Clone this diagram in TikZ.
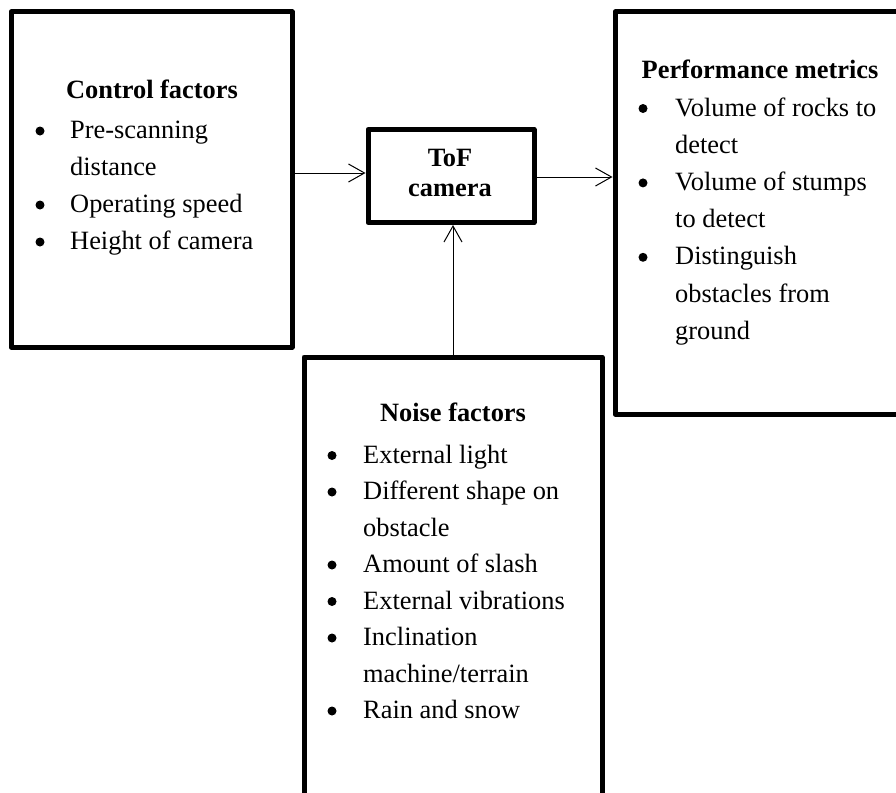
\documentclass[tikz,border=0pt]{standalone}
\usepackage{fontspec}
\setmainfont{Liberation Serif}
\usetikzlibrary{arrows.meta}
\tikzset{
  box/.style={draw, line width=5pt, line join=round, inner sep=0pt},
  ttl/.style={anchor=base, inner sep=0pt, font=\fontsize{26.4}{32}\selectfont\bfseries},
  itm/.style={anchor=base west, inner sep=0pt},
  bul/.style={circle, fill, inner sep=0pt, minimum size=9pt},
  arr/.style={line width=1pt, -{Straight Barb[length=16pt,width=18pt]}},
}
\begin{document}
\begin{tikzpicture}[x=1pt,y=-1pt, font=\fontsize{26.4}{32}\selectfont]
\useasboundingbox (0,0) rectangle (896,792);
\clip (0,0) rectangle (896,792);

% boxes
\node[box, minimum width=281pt, minimum height=335pt] (ctrl) at (151.5,179.5) {};
\node[box, minimum width=166pt, minimum height=93pt] (tof) at (451,176) {};
\node[box, minimum width=290pt, minimum height=402pt] (perf) at (760,213) {};
\node[box, minimum width=298pt, minimum height=453pt] (noise) at (453,583.5) {};

% control factors
\node[ttl] (ct) at (152,98) {Control factors};
\node[bul] (cb1) at (40,131) {};
\node[itm] (c1) at (70,138.5) {Pre-scanning};
\node[itm] (c1b) at (70,175.5) {distance};
\node[bul] (cb2) at (40,205) {};
\node[itm] (c2) at (70,212.6) {Operating speed};
\node[bul] (cb3) at (40,242) {};
\node[itm] (c3) at (70,249.8) {Height of camera};

% ToF camera
\node[ttl] (t1) at (450,166.5) {ToF};
\node[ttl] (t2) at (450,196) {camera};

% performance metrics
\node[ttl] (pt) at (760,78) {Performance metrics};
\node[bul] (pb1) at (643,108.5) {};
\node[itm] (p1) at (675,116) {Volume of rocks to};
\node[itm] (p1b) at (675,153.2) {detect};
\node[bul] (pb2) at (643,182.9) {};
\node[itm] (p2) at (675,190.4) {Volume of stumps};
\node[itm] (p2b) at (675,227.6) {to detect};
\node[bul] (pb3) at (643,257.3) {};
\node[itm] (p3) at (675,264.8) {Distinguish};
\node[itm] (p3b) at (675,302) {obstacles from};
\node[itm] (p3c) at (675,339.2) {ground};

% noise factors
\node[ttl] (nt) at (453,421) {Noise factors};
\node[bul] (nb1) at (332,455.5) {};
\node[itm] (n1) at (363,463) {External light};
\node[bul] (nb2) at (332,492) {};
\node[itm] (n2) at (363,499.5) {Different shape on};
\node[itm] (n2b) at (363,536) {obstacle};
\node[bul] (nb3) at (332,565) {};
\node[itm] (n3) at (363,572.5) {Amount of slash};
\node[bul] (nb4) at (332,601.5) {};
\node[itm] (n4) at (363,609) {External vibrations};
\node[bul] (nb5) at (332,638) {};
\node[itm] (n5) at (363,645.5) {Inclination};
\node[itm] (n5b) at (363,682) {machine/terrain};
\node[bul] (nb6) at (332,711) {};
\node[itm] (n6) at (363,718.5) {Rain and snow};

% connectors
\coordinate (a1) at (0,173);
\coordinate (a2) at (0,177);
\draw[arr] (ctrl.east |- a1) -- (tof.west |- a1);
\draw[arr] (tof.east |- a2) -- (perf.west |- a2);
\draw[arr] (noise.north) -- (noise.north |- tof.south);
\end{tikzpicture}
\end{document}
